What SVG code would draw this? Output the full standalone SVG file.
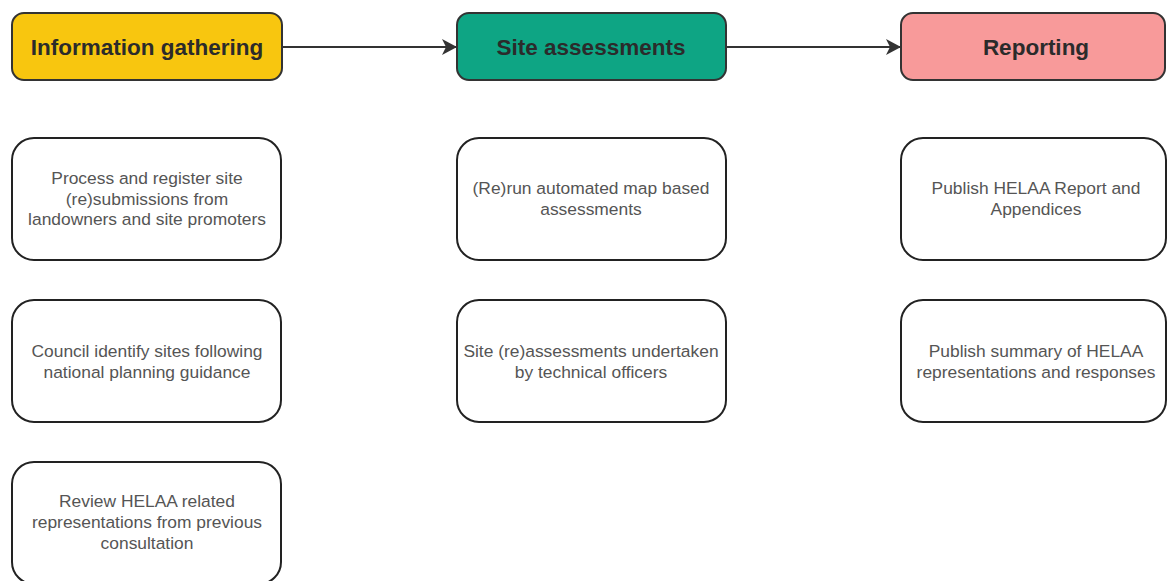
<svg xmlns="http://www.w3.org/2000/svg" width="1167" height="581" viewBox="0 0 1167 581">
<style>
.hdr{stroke:#333;stroke-width:2}
.hdrt{font-family:"Liberation Sans",Arial,sans-serif;font-size:22.5px;font-weight:bold;fill:#2b2b2b;text-anchor:middle}
.box{fill:#fff;stroke:#222;stroke-width:2}
.bt{font-family:"Liberation Sans",Arial,sans-serif;font-size:17.4px;fill:#555;text-anchor:middle}
.conn{stroke:#333;stroke-width:2;fill:none}
</style>
<defs>
<marker id="arr" markerWidth="16" markerHeight="16" refX="14" refY="8" orient="auto" markerUnits="userSpaceOnUse">
<path d="M0,0 L15,8 L0,16 L4,8 Z" fill="#333"/>
</marker>
</defs>
<rect width="1167" height="581" fill="#fff"/>
<g id="connectors">
<line class="conn" x1="282" y1="47" x2="456" y2="47" marker-end="url(#arr)"/>
<line class="conn" x1="726" y1="47" x2="900" y2="47" marker-end="url(#arr)"/>
</g>
<g id="info-gathering">
<rect class="hdr" x="12" y="13" width="270" height="67" rx="12" fill="#F8C60F"/>
<text class="hdrt" x="147" y="55">Information gathering</text>
</g>
<g id="site-assessments">
<rect class="hdr" x="457" y="13" width="269" height="67" rx="12" fill="#0EA584"/>
<text class="hdrt" x="591" y="55">Site assessments</text>
</g>
<g id="reporting">
<rect class="hdr" x="901" y="13" width="264" height="67" rx="12" fill="#F89A9A"/>
<text class="hdrt" x="1036" y="55">Reporting</text>
</g>
<g id="process-register">
<rect class="box" x="12" y="138" width="269" height="122" rx="22"/>
<text class="bt" x="147" y="184">Process and register site</text>
<text class="bt" x="147" y="204.5">(re)submissions from</text>
<text class="bt" x="147" y="225">landowners and site promoters</text>
</g>
<g id="council-identify">
<rect class="box" x="12" y="300" width="269" height="122" rx="22"/>
<text class="bt" x="147" y="357">Council identify sites following</text>
<text class="bt" x="147" y="377.5">national planning guidance</text>
</g>
<g id="review-helaa">
<rect class="box" x="12" y="462" width="269" height="122" rx="22"/>
<text class="bt" x="147" y="507">Review HELAA related</text>
<text class="bt" x="147" y="528">representations from previous</text>
<text class="bt" x="147" y="549">consultation</text>
</g>
<g id="rerun-automated">
<rect class="box" x="457" y="138" width="269" height="122" rx="22"/>
<text class="bt" x="591" y="194">(Re)run automated map based</text>
<text class="bt" x="591" y="214.5">assessments</text>
</g>
<g id="site-reassessments">
<rect class="box" x="457" y="300" width="269" height="122" rx="22"/>
<text class="bt" x="591" y="357">Site (re)assessments undertaken</text>
<text class="bt" x="591" y="377.5">by technical officers</text>
</g>
<g id="publish-report">
<rect class="box" x="901" y="138" width="265" height="122" rx="22"/>
<text class="bt" x="1036" y="194">Publish HELAA Report and</text>
<text class="bt" x="1036" y="214.5">Appendices</text>
</g>
<g id="publish-summary">
<rect class="box" x="901" y="300" width="265" height="122" rx="22"/>
<text class="bt" x="1036" y="357">Publish summary of HELAA</text>
<text class="bt" x="1036" y="377.5">representations and responses</text>
</g>
</svg>
